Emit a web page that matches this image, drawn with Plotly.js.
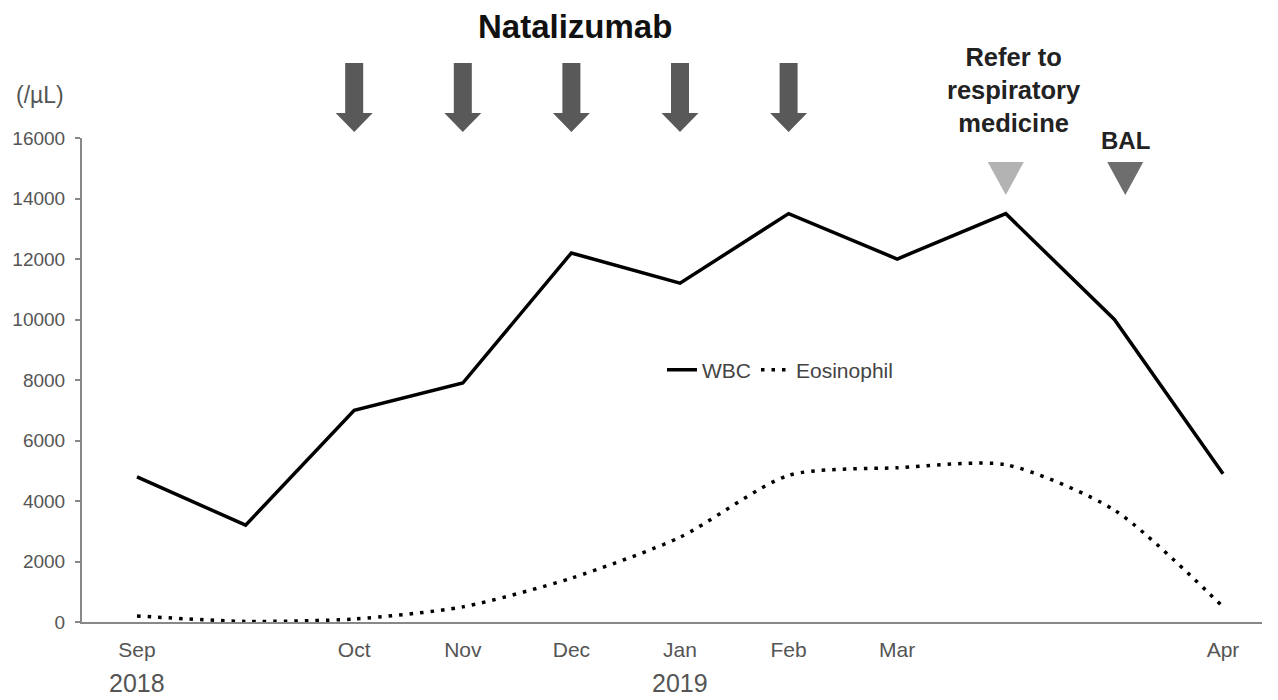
<!DOCTYPE html>
<html>
<head>
<meta charset="utf-8">
<script src="https://cdn.plot.ly/plotly-3.0.1.min.js"></script>
<style>html,body{margin:0;padding:0;background:#fff;}#chart{width:1278px;height:700px;}</style>
</head>
<body>
<div id="chart"></div>
<script>
// ---- data ----
const monthLabels = ["Sep", "", "Oct", "Nov", "Dec", "Jan", "Feb", "Mar", "", "", "Apr"];
const wbc = [4800, 3200, 7000, 7900, 12200, 11200, 13500, 12000, 13500, 10000, 4900];
const eosinophil = [200, 20, 100, 500, 1450, 2800, 4850, 5100, 5200, 3700, 500];
const yearLabels = ["2018", "2019"];
const yearIdx = [0, 5];
const natalizumabIdx = [2, 3, 4, 5, 6];
const referIdx = 8;
const balIdx = 9.1;
const yTicks = [0, 2000, 4000, 6000, 8000, 10000, 12000, 14000, 16000];

const xIdx = monthLabels.map((_, i) => i);
const FONT = "Liberation Sans, Arial, sans-serif";
const PX = 108.6;               // pixels per category step
const py = p => (622 - p) / 484; // pixel row -> paper y

const traces = [
  {x: xIdx, y: wbc, name: "WBC", mode: "lines", type: "scatter",
   line: {color: "#000", width: 3.5}},
  {x: xIdx, y: eosinophil, name: "Eosinophil", mode: "lines", type: "scatter",
   line: {color: "#000", width: 3.5, dash: "3.5px,7px", shape: "spline", smoothing: 0.7}}
];

const shapes = [];
natalizumabIdx.forEach(i => {
  const sw = 9 / PX, hw = 18.5 / PX;
  const yt = py(63), yh = py(113), yb = py(132);
  shapes.push({type: "path", xref: "x", yref: "paper", layer: "above",
    path: `M ${i - sw} ${yt} L ${i + sw} ${yt} L ${i + sw} ${yh} L ${i + hw} ${yh} L ${i} ${yb} L ${i - hw} ${yh} L ${i - sw} ${yh} Z`,
    fillcolor: "#595959", line: {width: 0}});
});
function tri(ix, color) {
  const hw = 18 / PX;
  const yt = py(162), yb = py(195);
  return {type: "path", xref: "x", yref: "paper",
    path: `M ${ix - hw} ${yt} L ${ix + hw} ${yt} L ${ix} ${yb} Z`,
    fillcolor: color, line: {width: 0}};
}
shapes.push(tri(referIdx, "#b3b3b3"));
shapes.push(tri(balIdx, "#6e6e6e"));

const ann = (text, xref, x, y, size, color) => ({text, xref, yref: "paper", x, y,
  xanchor: "center", yanchor: "middle", showarrow: false, font: {family: FONT, size, color}});

const annotations = [
  ann("<b>Natalizumab</b>", "x", 4.03, py(26), 33, "#111"),
  ann("<b>Refer to<br>respiratory<br>medicine</b>", "x", 8.08, py(90), 25.5, "#222"),
  ann("<b>BAL</b>", "x", balIdx, py(140), 24, "#222"),
  ann("(/µL)", "paper", (40 - 82) / 1180, py(95), 23, "#555")
];
yearLabels.forEach((t, k) => annotations.push(ann(t, "x", yearIdx[k], py(683), 25, "#555")));

const layout = {
  width: 1278, height: 700,
  margin: {l: 82, r: 16, t: 138, b: 78},
  paper_bgcolor: "#fff", plot_bgcolor: "#fff",
  font: {family: FONT, color: "#555"},
  showlegend: true,
  legend: {orientation: "h", x: (662 - 82) / 1180, y: py(370), yanchor: "middle", xanchor: "left",
    font: {family: FONT, size: 21, color: "#444"}, bgcolor: "rgba(0,0,0,0)", itemwidth: 30},
  xaxis: {range: [-(137 - 82) / PX, 10 + (1262 - 1223) / PX], tickmode: "array",
    tickvals: xIdx, ticktext: monthLabels, showgrid: false, zeroline: false,
    showline: true, linecolor: "#888", linewidth: 2, ticks: "", ticklabelstandoff: 8,
    tickfont: {family: FONT, size: 21, color: "#555"}, fixedrange: true},
  yaxis: {range: [0, 16000], tickmode: "array", tickvals: yTicks, tickformat: "d",
    showgrid: false, zeroline: false,
    showline: true, linecolor: "#888", linewidth: 2, ticks: "outside", ticklen: 5, tickcolor: "#888", tickwidth: 2,
    ticklabelstandoff: 6,
    tickfont: {family: FONT, size: 19, color: "#555"}, fixedrange: true},
  shapes: shapes,
  annotations: annotations
};

Plotly.newPlot("chart", traces, layout, {displayModeBar: false, staticPlot: true});
</script>
</body>
</html>
